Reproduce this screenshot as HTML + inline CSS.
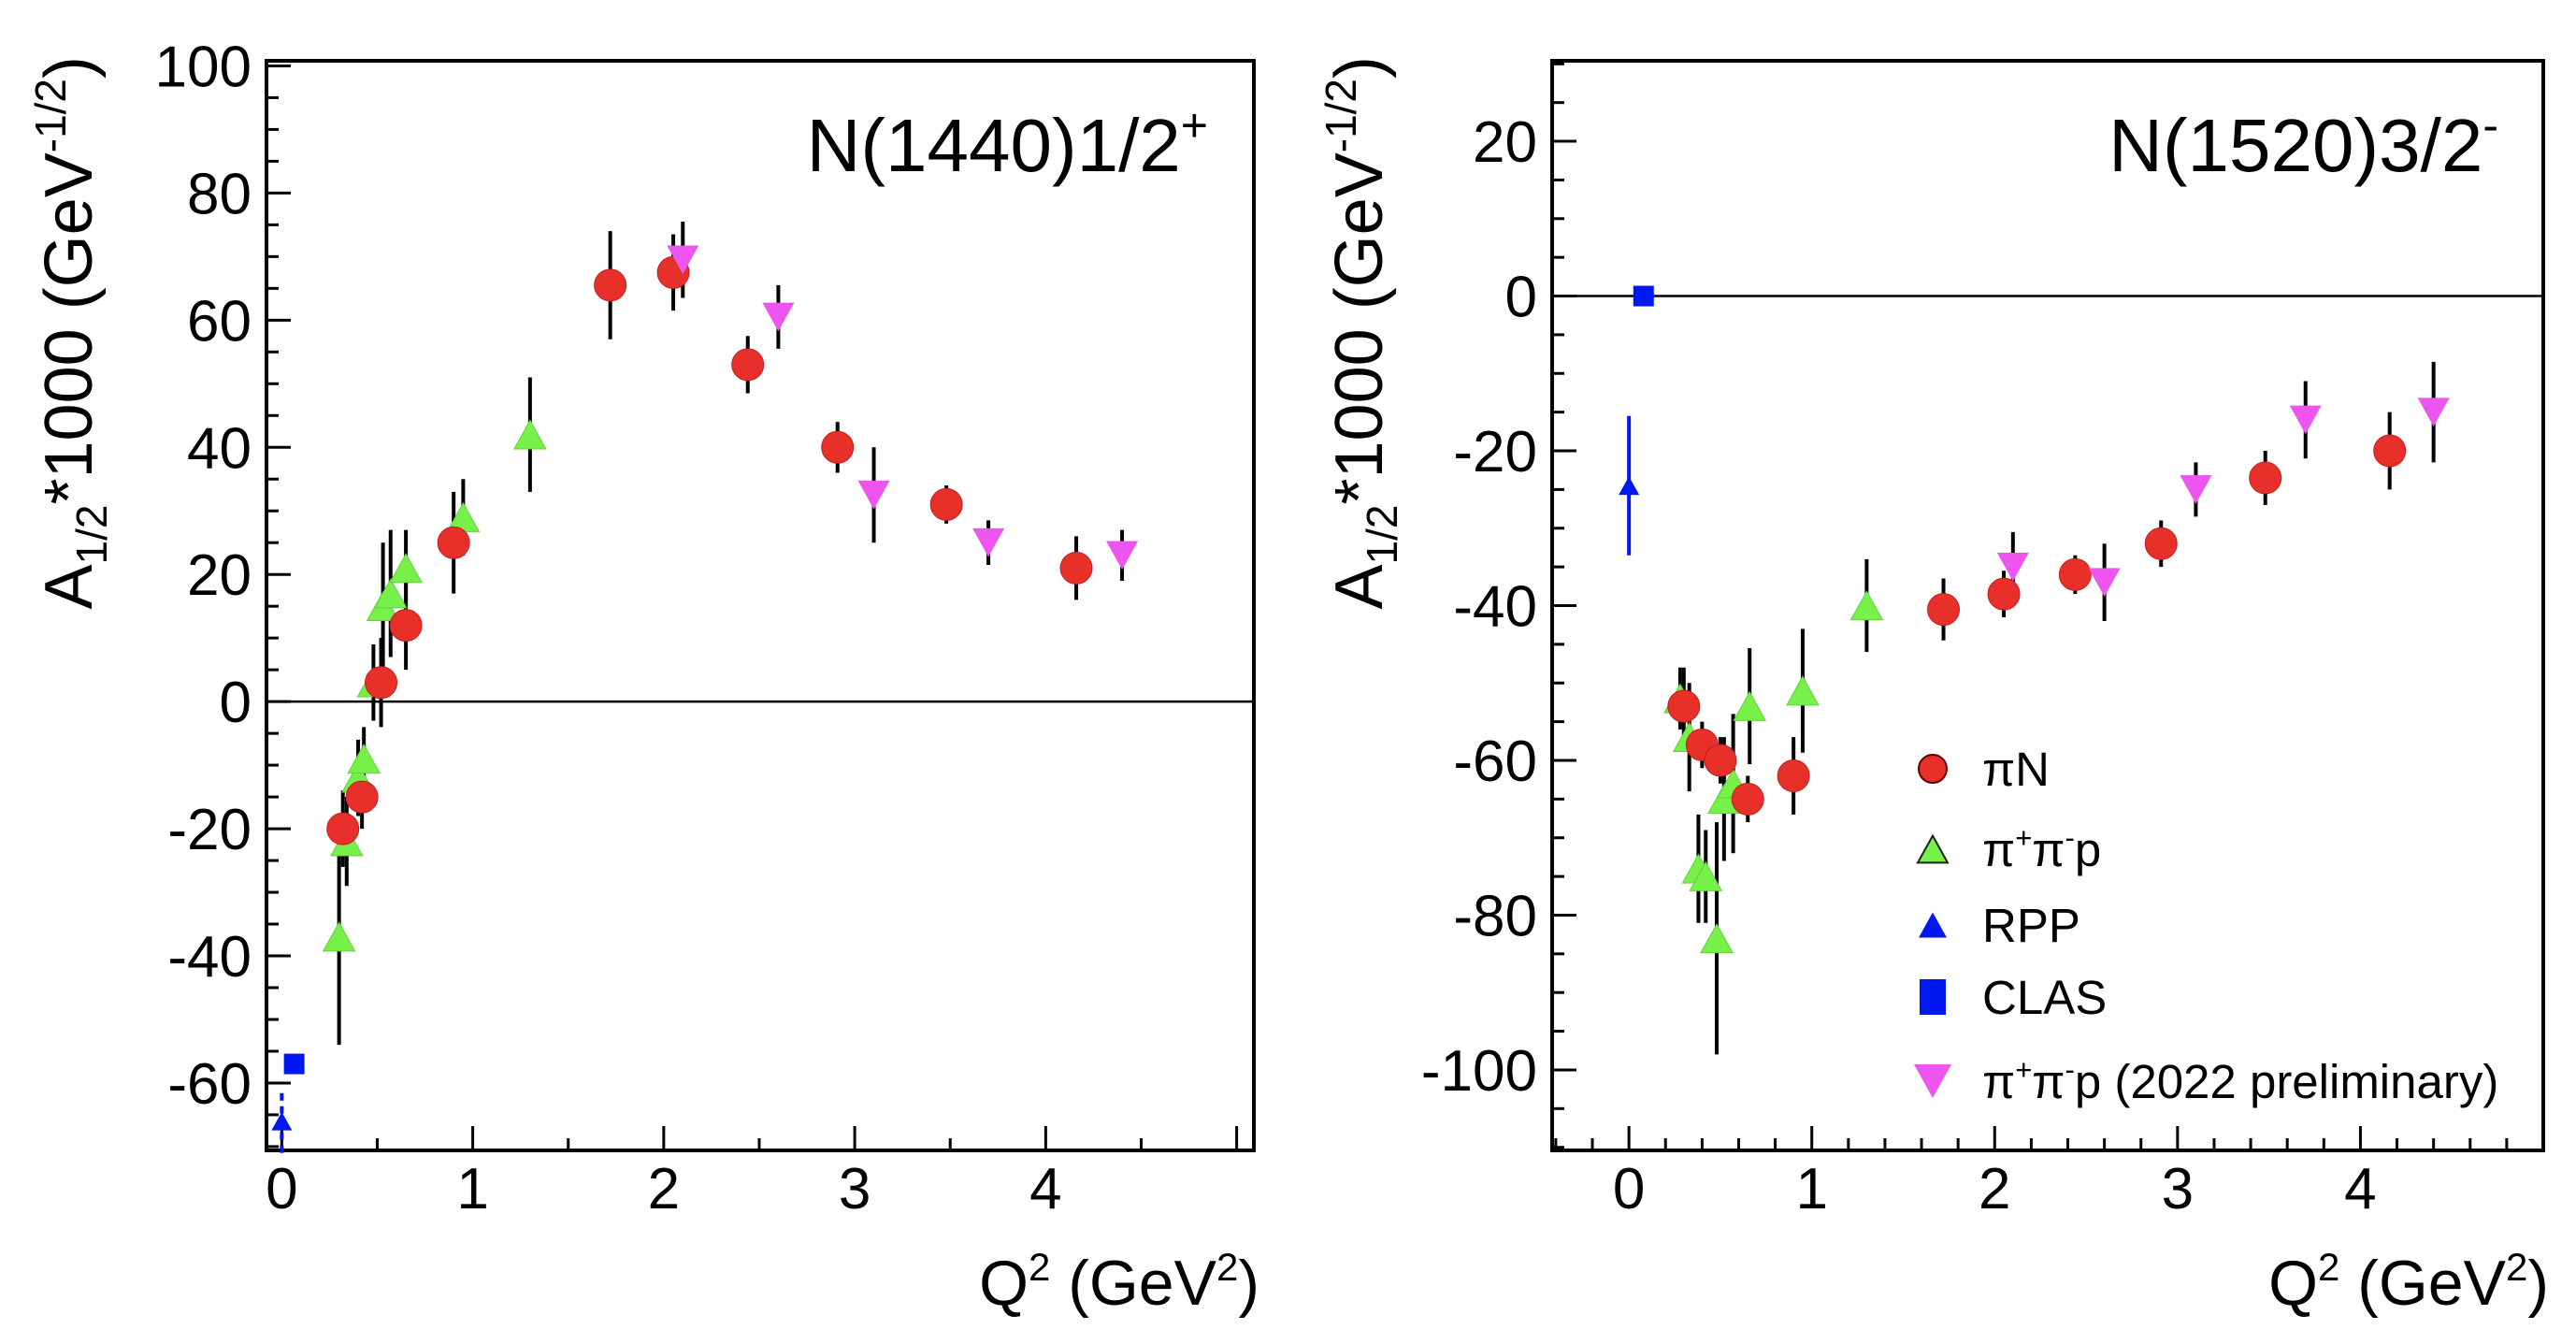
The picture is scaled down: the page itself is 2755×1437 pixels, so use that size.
<!DOCTYPE html>
<html><head><meta charset="utf-8"><style>
html,body{margin:0;padding:0;background:#fff;}
svg{display:block;font-family:"Liberation Sans",Arial,sans-serif;}
</style></head><body>
<svg id="chart" width="2755" height="1437" viewBox="0 0 2755 1437" xmlns="http://www.w3.org/2000/svg"></svg>
<script>
// ---------- Left panel data: N(1440)1/2+ ----------
const L_piN_q   = [0.32,0.42,0.52,0.65,0.90,1.72,2.05,2.44,2.91,3.48,4.16];
const L_piN_a   = [-20,-15,3,12,25,65.5,67.5,53,40,31,21];
const L_piN_e   = [6,5,7,7,8,8.5,6,4.5,4,3,5];
const L_pp_q    = [0.30,0.34,0.40,0.43,0.48,0.53,0.57,0.65,0.95,1.30];
const L_pp_a    = [-37,-22,-12,-9,3,15,17,21,29,42];
const L_pp_e    = [17,7,6,5,6,10,10,6,6,9];
const L_rpp_q   = [0.0];
const L_rpp_a   = [-66];
const L_rpp_e   = [5];
const L_clas_q  = [0.065];
const L_clas_a  = [-57];
const L_new_q   = [2.10,2.60,3.10,3.70,4.40];
const L_new_a   = [69.5,60.5,32.5,25,23];
const L_new_e   = [6,5,7.5,3.5,4];
const L_yticks  = [-60,-40,-20,0,20,40,60,80,100];
const L_xticks  = [0,1,2,3,4];
// ---------- Right panel data: N(1520)3/2- ----------
const R_piN_q   = [0.30,0.40,0.50,0.65,0.90,1.72,2.05,2.44,2.91,3.48,4.16];
const R_piN_a   = [-53,-58,-60,-65,-62,-40.5,-38.5,-36,-32,-23.5,-20];
const R_piN_e   = [5,3,3,3,5,4,3,2.5,3,3.5,5];
const R_pp_q    = [0.28,0.33,0.38,0.42,0.48,0.52,0.57,0.66,0.95,1.30];
const R_pp_a    = [-52,-57,-74,-75,-83,-65,-63,-53,-51,-40];
const R_pp_e    = [4,7,7,6,15,8,9,7.5,8,6];
const R_rpp_q   = [0.0];
const R_rpp_a   = [-24.5];
const R_rpp_e   = [9];
const R_clas_q  = [0.08];
const R_clas_a  = [0];
const R_new_q   = [2.10,2.60,3.10,3.70,4.40];
const R_new_a   = [-35,-37,-25,-16,-15];
const R_new_e   = [4.5,5,3.5,5,6.5];
const R_yticks  = [-100,-80,-60,-40,-20,0,20];
const R_xticks  = [0,1,2,3,4];

const NS="http://www.w3.org/2000/svg";
const svg=document.getElementById('chart');
function mk(tag,attrs,parent){const e=document.createElementNS(NS,tag);for(const k in attrs)e.setAttribute(k,attrs[k]);(parent||svg).appendChild(e);return e;}

function panel(cfg){
  const g=mk('g',{});
  
  
  const {x0,x1,y0,y1,xmin,xmax,ymin,ymax}=cfg;
  const sx=v=>x0+(v-xmin)/(xmax-xmin)*(x1-x0);
  const sy=v=>y1-(v-ymin)/(ymax-ymin)*(y1-y0);
  const fr=mk('rect',{x:x0,y:y0,width:x1-x0,height:y1-y0,fill:'none',stroke:'#000','stroke-width':4},g);
  
  
  const zl=mk('line',{x1:x0,x2:x1,y1:sy(0),y2:sy(0),stroke:'#000','stroke-width':2.5},g);
  
  
  for(let v=Math.ceil(ymin/5)*5; v<=ymax; v+=5){
    const major=(v%20===0);
    const t=mk('line',{x1:x0,x2:x0+(major?26:13),y1:sy(v),y2:sy(v),stroke:'#000','stroke-width':3},g);
    
    
  }
  cfg.yticks.forEach(v=>{
    const t=mk('text',{x:x0-16,y:sy(v)+22,'text-anchor':'end','font-size':62,fill:'#000'},g);
    t.textContent=v;
    
    
  });
  for(let v=Math.ceil(xmin/cfg.xminor)*cfg.xminor; v<=xmax+1e-9; v+=cfg.xminor){
    const major=Math.abs(v-Math.round(v))<1e-6;
    const t=mk('line',{x1:sx(v),x2:sx(v),y1:y1,y2:y1-(major?26:13),stroke:'#000','stroke-width':3},g);
    
    
  }
  cfg.xticks.forEach(v=>{
    const t=mk('text',{x:sx(v),y:y1+62,'text-anchor':'middle','font-size':62,fill:'#000'},g);
    t.textContent=v;
    
    
  });
  const xt=mk('text',{x:x1+6,y:y1+165,'text-anchor':'end','font-size':68,fill:'#000'},g);
  xt.innerHTML='Q<tspan dy="-26" font-size="42">2</tspan><tspan dy="26"> (GeV</tspan><tspan dy="-26" font-size="42">2</tspan><tspan dy="26">)</tspan>';
  
  
  const yt=mk('text',{x:0,y:0,'text-anchor':'end','font-size':72,fill:'#000',transform:`translate(${cfg.ytx},${y0-5}) rotate(-90)`},g);
  yt.innerHTML='A<tspan dy="16" font-size="46">1/2</tspan><tspan dy="-16">*1000 (GeV</tspan><tspan dy="-28" font-size="46">-1/2</tspan><tspan dy="28">)</tspan>';
  
  
  const pl=mk('text',{x:cfg.labelX,y:y0+118,'text-anchor':'end','font-size':80,fill:'#000'},g);
  pl.innerHTML=cfg.label+'<tspan dy="-32" font-size="50">'+cfg.sup+'</tspan>';
  
  

  function err(q,a,e,color,dash){
    for(let i=0;i<q.length;i++){
      const l=mk('line',{x1:sx(q[i]),x2:sx(q[i]),y1:sy(a[i]-e[i]),y2:sy(a[i]+e[i]),stroke:color,'stroke-width':4},g);
      if(dash) l.setAttribute('stroke-dasharray',dash);
      
      
    }
  }
  function tri(cx,cy,s,down){
    const h=s*0.9;
    return down?`${cx-s/2},${cy-h/2} ${cx+s/2},${cy-h/2} ${cx},${cy+h/2}`:`${cx-s/2},${cy+h/2} ${cx+s/2},${cy+h/2} ${cx},${cy-h/2}`;
  }
  err(cfg.pp_q,cfg.pp_a,cfg.pp_e,'#000');
  err(cfg.piN_q,cfg.piN_a,cfg.piN_e,'#000');
  err(cfg.new_q,cfg.new_a,cfg.new_e,'#000');
  err(cfg.rpp_q,cfg.rpp_a,cfg.rpp_e,'#0018f0',cfg.rppDash);
  cfg.pp_q.forEach((q,i)=>{
    const p=mk('polygon',{points:tri(sx(q),sy(cfg.pp_a[i]),34,false),fill:'#77f04a',stroke:'#66d040','stroke-width':1},g);
    
    
  });
  cfg.piN_q.forEach((q,i)=>{
    const c=mk('circle',{cx:sx(q),cy:sy(cfg.piN_a[i]),r:17,fill:'#e8302a',stroke:'#c02020','stroke-width':1},g);
    
    
  });
  cfg.new_q.forEach((q,i)=>{
    const p=mk('polygon',{points:tri(sx(q),sy(cfg.new_a[i]),34,true),fill:'#ee55ee'},g);
    
    
  });
  cfg.rpp_q.forEach((q,i)=>{
    const p=mk('polygon',{points:tri(sx(q),sy(cfg.rpp_a[i]),22,false),fill:'#0018f0'},g);
    
    
  });
  cfg.clas_q.forEach((q,i)=>{
    const r=mk('rect',{x:sx(q)-11,y:sy(cfg.clas_a[i])-11,width:22,height:22,fill:'#0018f0'},g);
    
    
  });
  return {g,sx,sy,tri};
}

panel({name:'left-panel-n1440',x0:285,x1:1341,y0:65,y1:1230,xmin:-0.08,xmax:5.09,ymin:-70.6,ymax:100.8,xminor:0.5,
  yticks:L_yticks,xticks:L_xticks,ytx:98,labelX:1292,label:'N(1440)1/2',sup:'+',
  piN_q:L_piN_q,piN_a:L_piN_a,piN_e:L_piN_e,pp_q:L_pp_q,pp_a:L_pp_a,pp_e:L_pp_e,
  rpp_q:L_rpp_q,rpp_a:L_rpp_a,rpp_e:L_rpp_e,rppDash:'8,6',clas_q:L_clas_q,clas_a:L_clas_a,
  new_q:L_new_q,new_a:L_new_a,new_e:L_new_e});

const R=panel({name:'right-panel-n1520',x0:1660,x1:2720,y0:65,y1:1230,xmin:-0.42,xmax:5.0,ymin:-110.4,ymax:30.4,xminor:0.2,
  yticks:R_yticks,xticks:R_xticks,ytx:1478,labelX:2672,label:'N(1520)3/2',sup:'-',
  piN_q:R_piN_q,piN_a:R_piN_a,piN_e:R_piN_e,pp_q:R_pp_q,pp_a:R_pp_a,pp_e:R_pp_e,
  rpp_q:R_rpp_q,rpp_a:R_rpp_a,rpp_e:R_rpp_e,rppDash:null,clas_q:R_clas_q,clas_a:R_clas_a,
  new_q:R_new_q,new_a:R_new_a,new_e:R_new_e});

const lg=mk('g',{});


const mx=2067, tx=2120;
const rows=[822,908,989,1066,1156];
const labels=['πN','π<tspan dy="-20" font-size="31">+</tspan><tspan dy="20">π</tspan><tspan dy="-20" font-size="31">-</tspan><tspan dy="20">p</tspan>','RPP','CLAS','π<tspan dy="-20" font-size="31">+</tspan><tspan dy="20">π</tspan><tspan dy="-20" font-size="31">-</tspan><tspan dy="20">p (2022 preliminary)</tspan>'];
const c0=mk('circle',{cx:mx,cy:rows[0],r:15,fill:'#e8302a',stroke:'#600','stroke-width':2},lg);


const p1=mk('polygon',{points:R.tri(mx,rows[1],32,false),fill:'#77f04a',stroke:'#222','stroke-width':2},lg);


const p2=mk('polygon',{points:R.tri(mx,rows[2],30,false),fill:'#0018f0'},lg);


const p3=mk('rect',{x:mx-14,y:rows[3]-19,width:28,height:38,fill:'#0018f0'},lg);


const p4=mk('polygon',{points:R.tri(mx,rows[4],40,true),fill:'#ee55ee'},lg);


labels.forEach((t,i)=>{
  const e=mk('text',{x:tx,y:rows[i]+18,'font-size':51,fill:'#000'},lg);
  e.innerHTML=t;
  
  
});
</script>
</body></html>
